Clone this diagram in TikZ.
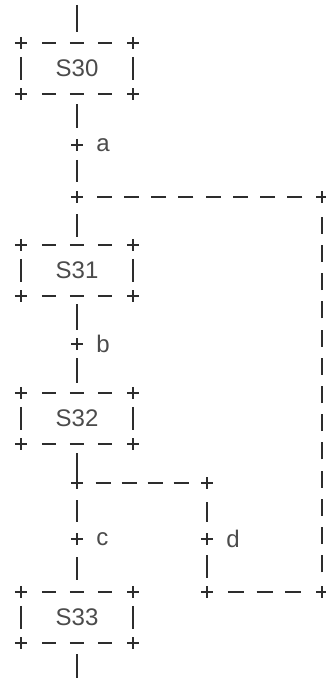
\documentclass[tikz,border=0pt]{standalone}
\usepackage{fontspec}
\setmainfont{Liberation Sans}
\usepackage{tikz}
\usetikzlibrary{positioning}
\definecolor{linegray}{RGB}{45,45,45}
\definecolor{textgray}{RGB}{75,75,75}
\newcommand{\sfcfont}{\fontsize{24pt}{24pt}\selectfont}
\tikzset{
  ink/.style={draw=linegray, line width=2.4pt, line cap=butt},
  plusmark/.style={rectangle, inner sep=0pt, minimum size=12pt,
    path picture={\draw[ink] (path picture bounding box.north) -- (path picture bounding box.south)
      (path picture bounding box.west) -- (path picture bounding box.east);}},
  stepbox/.style={rectangle, minimum width=112pt, minimum height=51pt,
    inner sep=0pt, font=\sfcfont, text=textgray},
  trlabel/.style={font=\sfcfont, text=textgray, inner sep=0pt, label distance=13pt}
}

\begin{document}
\begin{tikzpicture}[x=1pt, y=-1pt]
  \useasboundingbox (0,0) rectangle (326,679);

  % steps and transitions
  \node[stepbox] (s30) at (77,68.5) {S30};
  \node[plusmark, label={[trlabel]right:a}] (ta) at (77,145) {};
  \node[plusmark] (j1) at (77,197) {};
  \node[plusmark] (rt) at (322,197) {};
  \node[stepbox] (s31) at (77,270.5) {S31};
  \node[plusmark, label={[trlabel]right:b}] (tb) at (77,344) {};
  \node[stepbox] (s32) at (77,418.5) {S32};
  \node[plusmark] (j2) at (77,483) {};
  \node[plusmark] (dt) at (207,483) {};
  \node[plusmark, label={[trlabel]right:c}] (tc) at (77,539) {};
  \node[plusmark, label={[trlabel]right:d}] (td) at (207,539) {};
  \node[plusmark] (db) at (207,592) {};
  \node[plusmark] (rb) at (322,592) {};
  \node[stepbox] (s33) at (77,617.5) {S33};
  \coordinate (in) at (77,5);
  \coordinate (out) at (77,678);

  % step frames
  \foreach \s in {s30,s31,s32,s33}{
    \foreach \c/\a in {nw/north west, ne/north east, sw/south west, se/south east}
      \node[plusmark] (\s\c) at (\s.\a) {};
    \draw[ink, dash pattern=on 14pt off 14pt, shorten <=21pt, shorten >=21pt] (\s nw.center) -- (\s ne.center);
    \draw[ink, dash pattern=on 14pt off 14pt, shorten <=21pt, shorten >=21pt] (\s sw.center) -- (\s se.center);
    \draw[ink, shorten <=14pt, shorten >=14pt] (\s nw.center) -- (\s sw.center);
    \draw[ink, shorten <=14pt, shorten >=14pt] (\s ne.center) -- (\s se.center);
  }

  % main chain
  \draw[ink, shorten >=11pt] (in) -- (s30.north);
  \draw[ink, shorten <=10pt, shorten >=17pt] (s30.south) -- (ta.center);
  \draw[ink, shorten <=15pt, shorten >=15pt] (ta.center) -- (j1.center);
  \draw[ink, shorten <=17pt, shorten >=8pt] (j1.center) -- (s31.north);
  \draw[ink, shorten <=8pt, shorten >=14pt] (s31.south) -- (tb.center);
  \draw[ink, shorten <=14pt, shorten >=10pt] (tb.center) -- (s32.north);
  \draw[ink, shorten <=9pt] (s32.south) -- (j2.center);
  \draw[ink, shorten <=17pt, shorten >=17pt] (j2.center) -- (tc.center);
  \draw[ink, shorten <=18pt, shorten >=12pt] (tc.center) -- (s33.north);
  \draw[ink, shorten <=11pt] (s33.south) -- (out);

  % branch d and loop back
  \draw[ink, dash pattern=on 15pt off 11pt, shorten <=18.5pt, shorten >=18.5pt] (j2.center) -- (dt.center);
  \draw[ink, shorten <=19pt, shorten >=17pt] (dt.center) -- (td.center);
  \draw[ink, shorten <=16pt, shorten >=14pt] (td.center) -- (db.center);
  \draw[ink, dash pattern=on 16pt off 12.75pt, shorten <=20.75pt, shorten >=20.75pt] (db.center) -- (rb.center);
  \draw[ink, dash pattern=on 17pt off 11.21pt, shorten <=19.71pt, shorten >=19.71pt] (rb.center) -- (rt.center);
  \draw[ink, dash pattern=on 15pt off 12.22pt, shorten <=19.72pt, shorten >=19.72pt] (rt.center) -- (j1.center);
\end{tikzpicture}
\end{document}
